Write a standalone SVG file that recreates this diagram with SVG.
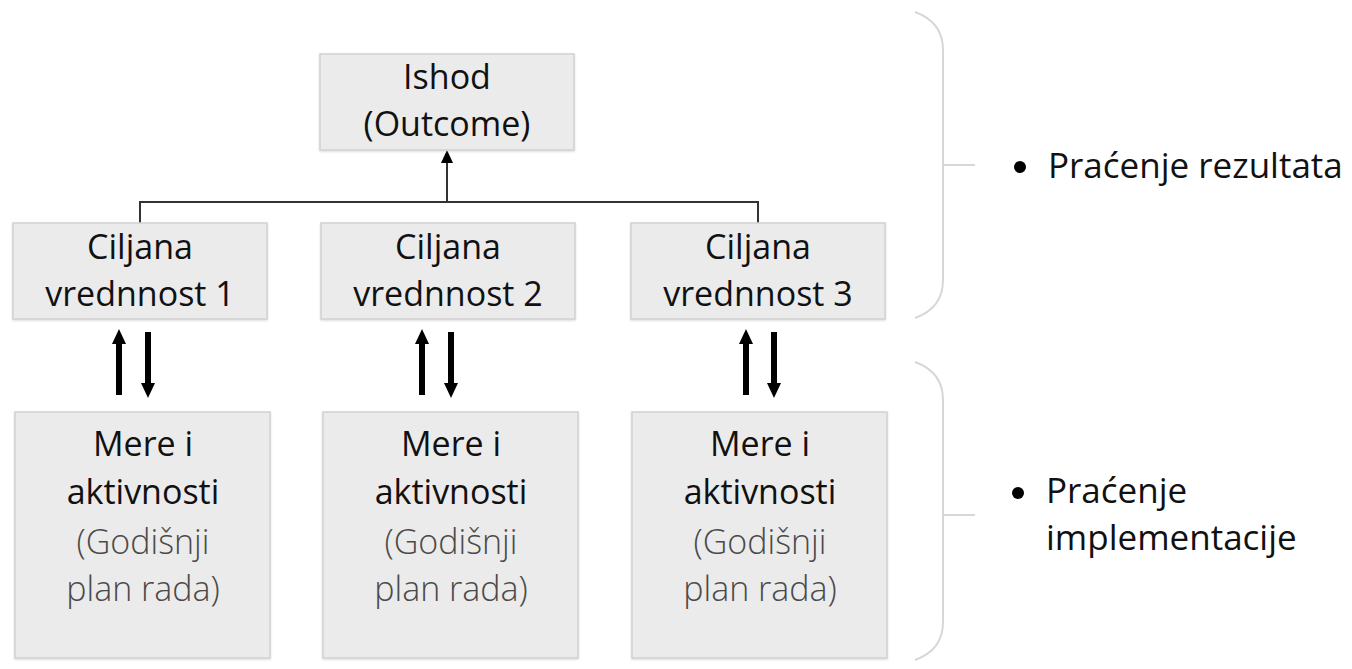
<svg xmlns="http://www.w3.org/2000/svg" width="1352" height="669" viewBox="0 0 1352 669">
<style>
.box{fill:#ebebeb;stroke:#d2d2d2;stroke-width:1.5}
.t{font-family:"Open Sans","Noto Sans",sans-serif;font-size:34px;fill:#111;text-anchor:middle}
.g{fill:#4a4a4a;font-weight:300}
.side{font-family:"Open Sans","Noto Sans",sans-serif;font-size:35px;fill:#111}
.conn{stroke:#333;stroke-width:2;fill:none}
.thick{stroke:#000;stroke-width:6;fill:none}
.head{fill:#000}
.brace{stroke:#d4d8dc;stroke-width:2;fill:none}
</style>
<defs>
<filter id="sh" x="-5%" y="-5%" width="110%" height="115%"><feDropShadow dx="0" dy="1" stdDeviation="1" flood-color="#9ab" flood-opacity="0.4"/></filter>
</defs>
<g id="connectors">
<path class="conn" d="M140,223 V202 H758 V223"/>
<path class="conn" d="M447,202 V160"/>
<polygon class="head" points="447,150 441,163 453,163"/>
<path class="thick" d="M119,395 V340"/>
<polygon class="head" points="119,329 112,344 126,344"/>
<path class="thick" d="M148,332 V386"/>
<polygon class="head" points="148,398 141,383 155,383"/>
<path class="thick" d="M422,395 V340"/>
<polygon class="head" points="422,329 415,344 429,344"/>
<path class="thick" d="M451,332 V386"/>
<polygon class="head" points="451,398 444,383 458,383"/>
<path class="thick" d="M746,395 V340"/>
<polygon class="head" points="746,329 739,344 753,344"/>
<path class="thick" d="M774,332 V386"/>
<polygon class="head" points="774,398 767,383 781,383"/>
</g>
<g id="n-ishod"><rect class="box" filter="url(#sh)" x="320" y="54" width="254" height="96"/><text class="t" x="447" y="89">Ishod</text><text class="t" x="447" y="136">(Outcome)</text></g>
<g id="n-c1"><rect class="box" filter="url(#sh)" x="13" y="223" width="254" height="96"/><text class="t" x="140" y="259">Ciljana</text><text class="t" x="140" y="306">vrednnost 1</text></g>
<g id="n-c2"><rect class="box" filter="url(#sh)" x="321" y="223" width="254" height="96"/><text class="t" x="448" y="259">Ciljana</text><text class="t" x="448" y="306">vrednnost 2</text></g>
<g id="n-c3"><rect class="box" filter="url(#sh)" x="631" y="223" width="254" height="96"/><text class="t" x="758" y="259">Ciljana</text><text class="t" x="758" y="306">vrednnost 3</text></g>
<g id="n-m1"><rect class="box" filter="url(#sh)" x="15" y="412" width="255" height="246"/><text class="t" x="143" y="456">Mere i</text><text class="t" x="143" y="504">aktivnosti</text><text class="t g" x="143" y="554">(Godišnji</text><text class="t g" x="143" y="601">plan rada)</text></g>
<g id="n-m2"><rect class="box" filter="url(#sh)" x="323" y="412" width="255" height="246"/><text class="t" x="451" y="456">Mere i</text><text class="t" x="451" y="504">aktivnosti</text><text class="t g" x="451" y="554">(Godišnji</text><text class="t g" x="451" y="601">plan rada)</text></g>
<g id="n-m3"><rect class="box" filter="url(#sh)" x="632" y="412" width="255" height="246"/><text class="t" x="760" y="456">Mere i</text><text class="t" x="760" y="504">aktivnosti</text><text class="t g" x="760" y="554">(Godišnji</text><text class="t g" x="760" y="601">plan rada)</text></g>
<g id="brace-top"><path class="brace" d="M915,12 Q943,22 943,50 V280 Q943,308 915,318 M943,165 H975"/></g>
<g id="brace-bottom"><path class="brace" d="M915,362 Q943,372 943,400 V622 Q943,650 915,660 M943,515 H975"/></g>
<g id="label-top"><circle cx="1020" cy="167" r="6" fill="#000"/><text class="side" x="1048" y="178">Praćenje rezultata</text></g>
<g id="label-bottom"><circle cx="1018" cy="493" r="6" fill="#000"/><text class="side" x="1046" y="503">Praćenje</text><text class="side" x="1046" y="550">implementacije</text></g>
</svg>
